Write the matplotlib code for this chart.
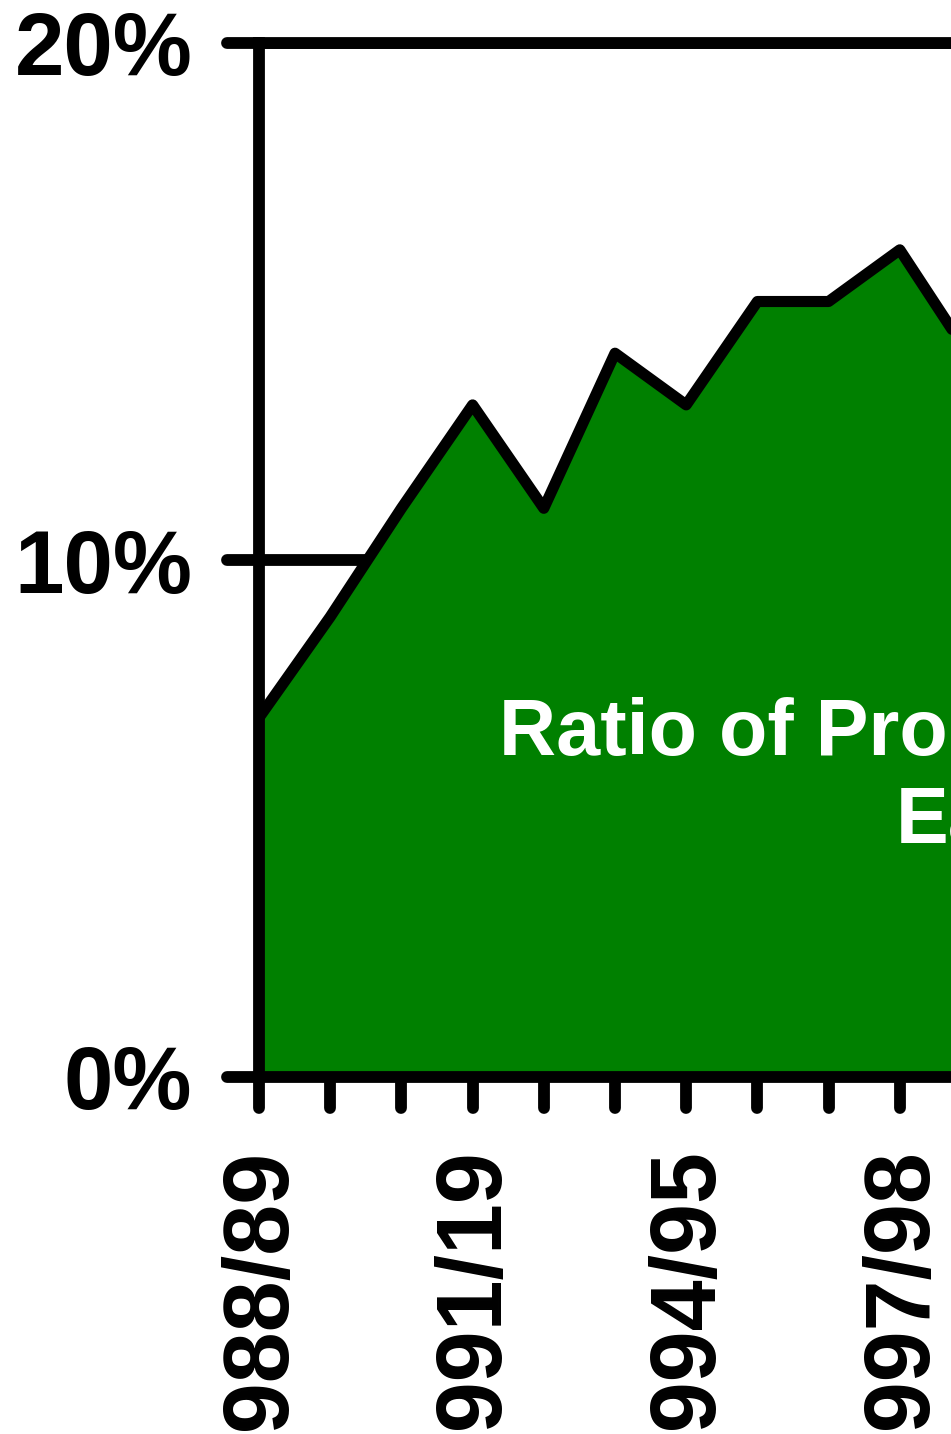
import matplotlib
matplotlib.use('Agg')
import matplotlib.pyplot as plt
from matplotlib.markers import MarkerStyle, TICKDOWN, TICKLEFT

years = ['1988/89', '1989/90', '1990/91', '1991/19', '1992/93', '1993/94',
         '1994/95', '1995/96', '1996/97', '1997/98', '1998/99']
ratio = [6.95, 8.9, 11.0, 13.0, 11.0, 14.0, 13.0, 15.0, 15.0, 16.0, 13.9]
y_ticks = [0, 10, 20]
y_tick_labels = ['0%', '10%', '20%']

plt.rcParams['font.family'] = ['Liberation Sans', 'DejaVu Sans']
plt.rcParams['font.weight'] = 'bold'

LW = 8.5

fig = plt.figure(figsize=(9.51, 14.34), dpi=100)
# axes runs off the right edge, as in the cropped original
ax = fig.add_axes([259 / 951, 357 / 1434, 14 * 71.2 / 951, 1034 / 1434])

x = list(range(len(years)))
ax.fill_between(x, ratio, 0, color='#008000', linewidth=0, zorder=1)
ax.plot(x, ratio, color='black', linewidth=8, solid_joinstyle='round',
        solid_capstyle='round', zorder=2)

ax.set_xlim(0, 14)
ax.set_ylim(0, 20)
ax.set_xticks(x)
ax.set_xticklabels([y if i % 3 == 0 else '' for i, y in enumerate(years)],
                   rotation=90, fontsize=66, fontweight='bold')
ax.set_yticks(y_ticks)
ax.set_yticklabels(y_tick_labels, fontsize=64, fontweight='bold')

ax.tick_params(axis='x', length=22, width=LW, pad=28)
ax.tick_params(axis='y', length=23, width=LW, pad=25)

ax.grid(axis='y', color='black', linewidth=LW, linestyle='-')
ax.set_axisbelow(True)

ax.spines['right'].set_visible(False)
for side in ['left', 'bottom', 'top']:
    ax.spines[side].set_linewidth(LW)
    ax.spines[side].set_zorder(2.5)

# rounded tick ends
for t in ax.xaxis.get_major_ticks():
    t.tick1line.set_marker(MarkerStyle(TICKDOWN, capstyle='round'))
for t in ax.yaxis.get_major_ticks():
    t.tick1line.set_marker(MarkerStyle(TICKLEFT, capstyle='round'))

ax.text(3.37, 6.23, 'Ratio of Property Taxes to', color='white', fontsize=57,
        fontweight='bold', va='baseline', ha='left', zorder=3)
ax.text(8.95, 4.53, 'Earnings', color='white', fontsize=57,
        fontweight='bold', va='baseline', ha='left', zorder=3)

fig.savefig('out.png', dpi=100)
